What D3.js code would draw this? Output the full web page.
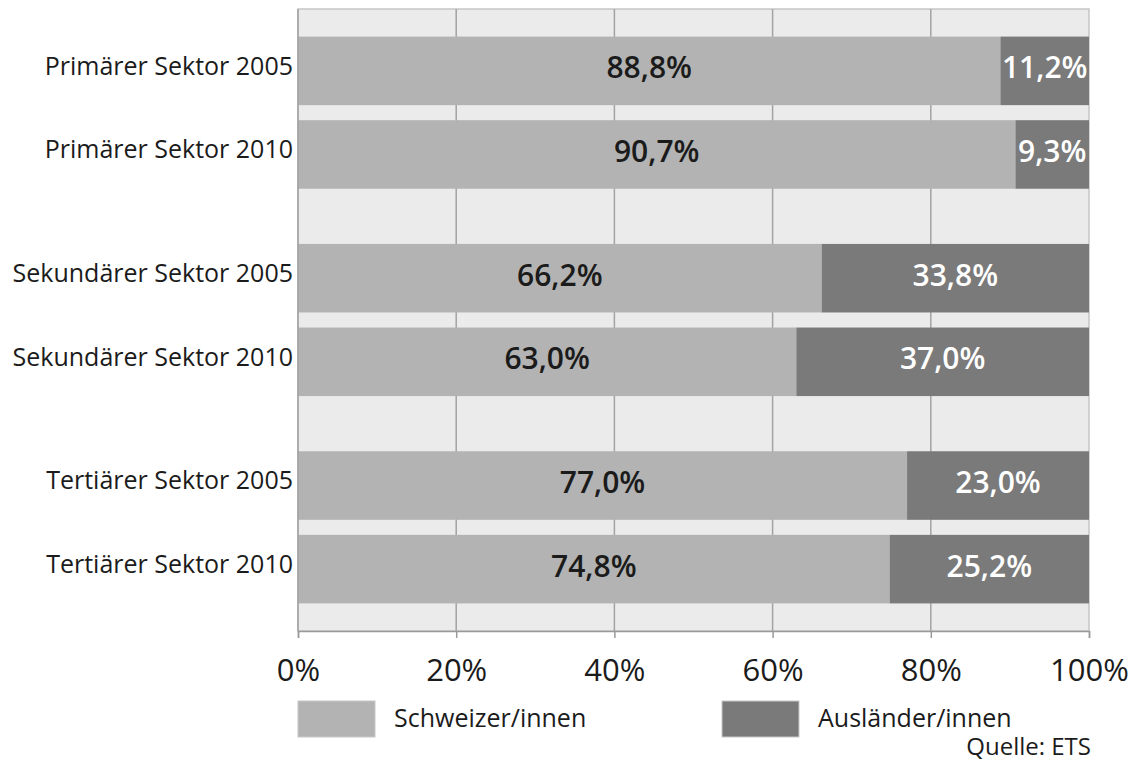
<!DOCTYPE html>
<html>
<head>
<meta charset="utf-8">
<script src="https://cdn.jsdelivr.net/npm/d3@7"></script>
<style>
  html, body { margin: 0; padding: 0; background: #fff; }
  svg { display: block; font-family: "Open Sans", "Noto Sans", sans-serif; }
</style>
</head>
<body>
<svg id="chart" width="1132" height="764"></svg>
<script>
// ---- data ----
const sectors = ["Primärer Sektor", "Sekundärer Sektor", "Tertiärer Sektor"];
const years = ["2005", "2010"];
const swiss = [88.8, 90.7, 66.2, 63.0, 77.0, 74.8];      // Schweizer/innen
const foreign = [11.2, 9.3, 33.8, 37.0, 23.0, 25.2];     // Ausländer/innen
const xTicks = [0, 20, 40, 60, 80, 100];
const seriesNames = ["Schweizer/innen", "Ausländer/innen"];
const sourceNote = "Quelle: ETS";

// ---- layout ----
const svg = d3.select("#chart");
const pLeft = 298, pRight = 1089, pTop = 9, pBottom = 631;
const colors = ["#b2b3b2", "#7a7a7a"];

const rows = [];
sectors.forEach((s, i) => years.forEach((y, j) => {
  const k = i * years.length + j;
  rows.push({ sector: s, year: y, label: s + " " + y, values: [swiss[k], foreign[k]] });
}));

const x = d3.scaleLinear().domain([0, 100]).range([pLeft, pRight]);
const yOuter = d3.scaleBand().domain(sectors).range([pTop, pBottom]).padding(0);
const yInner = d3.scaleBand().domain(years).range([0, yOuter.bandwidth()])
  .paddingInner(0.18).paddingOuter(0.33);
const fmt = v => d3.format(".1f")(v).replace(".", ",") + "%";

// plot background
svg.append("rect")
  .attr("x", pLeft).attr("y", pTop)
  .attr("width", pRight - pLeft).attr("height", pBottom - pTop)
  .attr("fill", "#ebebeb").attr("stroke", "#c6c6c6").attr("stroke-width", 1.5);

// gridlines
svg.append("g").selectAll("line").data(xTicks.slice(1, -1)).join("line")
  .attr("x1", d => x(d)).attr("x2", d => x(d))
  .attr("y1", pTop).attr("y2", pBottom)
  .attr("stroke", "#a3a3a3").attr("stroke-width", 1.5);

// bars
const rowG = svg.append("g").selectAll("g").data(rows).join("g")
  .attr("transform", d => `translate(0,${yOuter(d.sector) + yInner(d.year)})`);

rowG.each(function(d) {
  const g = d3.select(this);
  let acc = 0;
  d.values.forEach((v, i) => {
    g.append("rect")
      .attr("x", x(acc)).attr("y", 0)
      .attr("width", x(acc + v) - x(acc)).attr("height", yInner.bandwidth())
      .attr("fill", colors[i]);
    g.append("text")
      .attr("x", (x(acc) + x(acc + v)) / 2)
      .attr("y", yInner.bandwidth() / 2 - 3)
      .attr("dy", "0.35em")
      .attr("text-anchor", "middle")
      .attr("font-size", 30)
      .attr("font-weight", 600)
      .attr("fill", i === 0 ? "#1b1b1b" : "#ffffff")
      .text(fmt(v));
    acc += v;
  });
});

// left axis line
svg.append("line")
  .attr("x1", pLeft).attr("x2", pLeft).attr("y1", pTop).attr("y2", pBottom)
  .attr("stroke", "#a0a0a0").attr("stroke-width", 1.5);

// category labels
svg.append("g").selectAll("text").data(rows).join("text")
  .attr("x", pLeft - 5)
  .attr("y", d => yOuter(d.sector) + yInner(d.year) + yInner.bandwidth() / 2 - 5)
  .attr("dy", "0.35em")
  .attr("text-anchor", "end")
  .attr("font-size", 25)
  .attr("fill", "#1b1b1b")
  .text(d => d.label);

// bottom axis
const xAxis = d3.axisBottom(x).tickValues(xTicks).tickFormat(d => d + "%")
  .tickSize(7).tickPadding(21);
const axG = svg.append("g").attr("transform", `translate(0,${pBottom})`).call(xAxis);
axG.select(".domain").attr("stroke", "#9a9a9a").attr("stroke-width", 1.5);
axG.selectAll(".tick line").attr("stroke", "#9a9a9a").attr("stroke-width", 1.5);
axG.selectAll(".tick text")
  .attr("font-family", "'Open Sans', 'Noto Sans', sans-serif")
  .attr("font-size", 31).attr("fill", "#1b1b1b");

// legend
const legendX = [pLeft, 722];
const lg = svg.append("g").selectAll("g").data(seriesNames).join("g")
  .attr("transform", (d, i) => `translate(${legendX[i]},701)`);
lg.append("rect").attr("width", 77).attr("height", 36)
  .attr("fill", (d, i) => colors[i]).attr("stroke", "#c8c8c8").attr("stroke-width", 1);
lg.append("text").attr("x", 96).attr("y", 17).attr("dy", "0.35em")
  .attr("font-size", 25).attr("fill", "#1b1b1b").text(d => d);

// source note
svg.append("text")
  .attr("x", pRight + 2).attr("y", 755)
  .attr("text-anchor", "end")
  .attr("font-size", 24).attr("fill", "#1b1b1b")
  .text(sourceNote);
</script>
</body>
</html>
